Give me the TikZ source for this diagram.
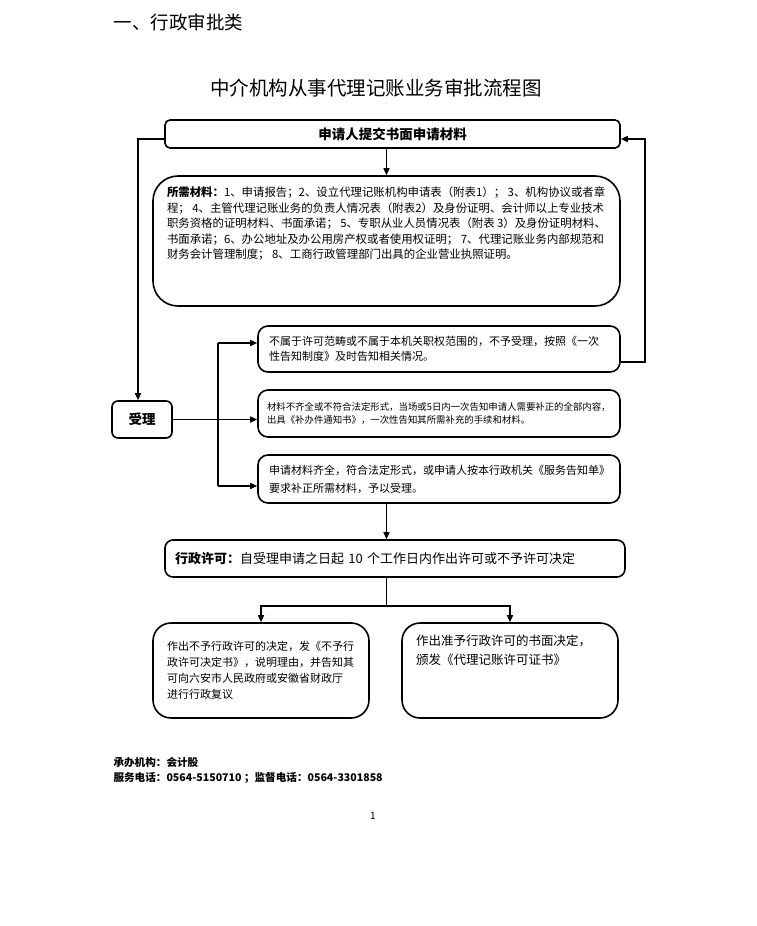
\documentclass[tikz,border=0pt]{standalone}
\usepackage{fontspec}
\setmainfont{Noto Sans CJK SC}
\usetikzlibrary{arrows.meta, positioning}

\begin{document}
\begin{tikzpicture}[x=1pt, y=-1pt,
  box/.style={draw, line width=1.6pt, inner sep=0pt},
  arr/.style={line width=1.5pt, -{Triangle[length=7pt,width=6pt]}},
  line/.style={line width=1.5pt}]

\fill[white] (0,0) rectangle (756,926);
\useasboundingbox (0,0) rectangle (756,926);

% headings
\node[anchor=west, font=\fontsize{18.5}{20}\selectfont] (header) at (110,22) {一、行政审批类};
\node[font=\fontsize{19.5}{22}\selectfont] (title) at (376,88) {中介机构从事代理记账业务审批流程图};

% application
\node at (392.5,134) [box, rounded corners=5pt, minimum width=455, minimum height=28,
  font=\bfseries\fontsize{13.5}{15}\selectfont] (submit) {申请人提交书面申请材料};

\node at (386.5,241) [box, rounded corners=25pt, inner xsep=14pt, inner ysep=11pt] (needed)
{\parbox[c][108pt][t]{439pt}{\fontsize{11.4}{15.5}\selectfont
\textbf{所需材料：}1、申请报告；2、设立代理记账机构申请表（附表1）； 3、机构协议或者章\\
程； 4、主管代理记账业务的负责人情况表（附表2）及身份证明、会计师以上专业技术\\
职务资格的证明材料、书面承诺； 5、专职从业人员情况表（附表 3）及身份证明材料、\\
书面承诺；6、办公地址及办公用房产权或者使用权证明； 7、代理记账业务内部规范和\\
财务会计管理制度； 8、工商行政管理部门出具的企业营业执照证明。}};

% acceptance
\node at (142,419.5) [box, rounded corners=6pt, minimum width=60, minimum height=37,
  font=\bfseries\fontsize{13.5}{15}\selectfont] (accept) {受理};

\node at (439,349) [box, rounded corners=10pt, inner xsep=11pt, text width=340, minimum height=46,
  align=left, font=\fontsize{11}{15}\selectfont] (reject)
{不属于许可范畴或不属于本机关职权范围的，不予受理，按照《一次\\
性告知制度》及时告知相关情况。};

\node at (439,413.5) [box, rounded corners=10pt, inner xsep=9pt, text width=344, minimum height=47,
  align=left, font=\fontsize{9.4}{13}\selectfont] (amend)
{材料不齐全或不符合法定形式，当场或5日内一次告知申请人需要补正的全部内容，\\
出具《补办件通知书》，一次性告知其所需补充的手续和材料。};

\node at (439,479) [box, rounded corners=10pt, inner xsep=11pt, text width=340, minimum height=48,
  align=left, font=\fontsize{11}{18}\selectfont] (complete)
{申请材料齐全，符合法定形式，或申请人按本行政机关《服务告知单》\\
要求补正所需材料，予以受理。};

% decision
\node at (395,558.5) [box, rounded corners=8pt, inner xsep=10pt, text width=440, minimum height=37,
  align=left, font=\fontsize{13}{15}\selectfont] (permit)
{\textbf{行政许可：}自受理申请之日起 10 个工作日内作出许可或不予许可决定};

\node at (261,670.5) [box, rounded corners=18pt, inner xsep=14pt, text width=188, minimum height=95,
  align=left, font=\fontsize{11}{16}\selectfont] (deny)
{作出不予行政许可的决定，发《不予行\\
政许可决定书》，说明理由，并告知其\\
可向六安市人民政府或安徽省财政厅\\
进行行政复议};

\node at (510,670.5) [box, rounded corners=18pt, inner xsep=14pt, inner ysep=12pt] (grant)
{\parbox[c][71pt][t]{188pt}{\fontsize{12.5}{19}\selectfont
作出准予行政许可的书面决定，\\
颁发《代理记账许可证书》}};

% connectors
\draw[arr] (submit.south -| needed.north) -- (needed.north);
\draw[arr] ([yshift=-5pt]submit.west) -| ([xshift=-4pt]accept.north);
\draw[arr] ([yshift=-13pt]reject.east) -- ++(24,0) |- ([yshift=-5pt]submit.east);

\coordinate (forktop) at (218,343);
\coordinate (forkbot) at (218,486);
\draw[line] (forktop) -- (forkbot);
\draw[arr] (forktop) -- (forktop -| reject.west);
\draw[arr] (accept.east) -- (accept.east -| amend.west);
\draw[arr] (forkbot) -- (forkbot -| complete.west);

\draw[arr] (complete.south -| needed.north) -- (needed.north |- permit.north);
\draw[line] (permit.south -| needed.north) -- ++(0,28) coordinate (branch);
\draw[arr] (branch) -| (deny.north);
\draw[arr] (branch) -| (grant.north);

% footer
\node[anchor=west, font=\bfseries\fontsize{10.6}{14}\selectfont] (office) at (110,762) {承办机构：会计股};
\node[anchor=west, font=\bfseries\fontsize{10.6}{14}\selectfont] (phone) at (110,778)
{服务电话：0564-5150710 ；监督电话：0564-3301858};
\node[font=\fontsize{10}{12}\selectfont] (page) at (373,816) {1};

\end{tikzpicture}
\end{document}
